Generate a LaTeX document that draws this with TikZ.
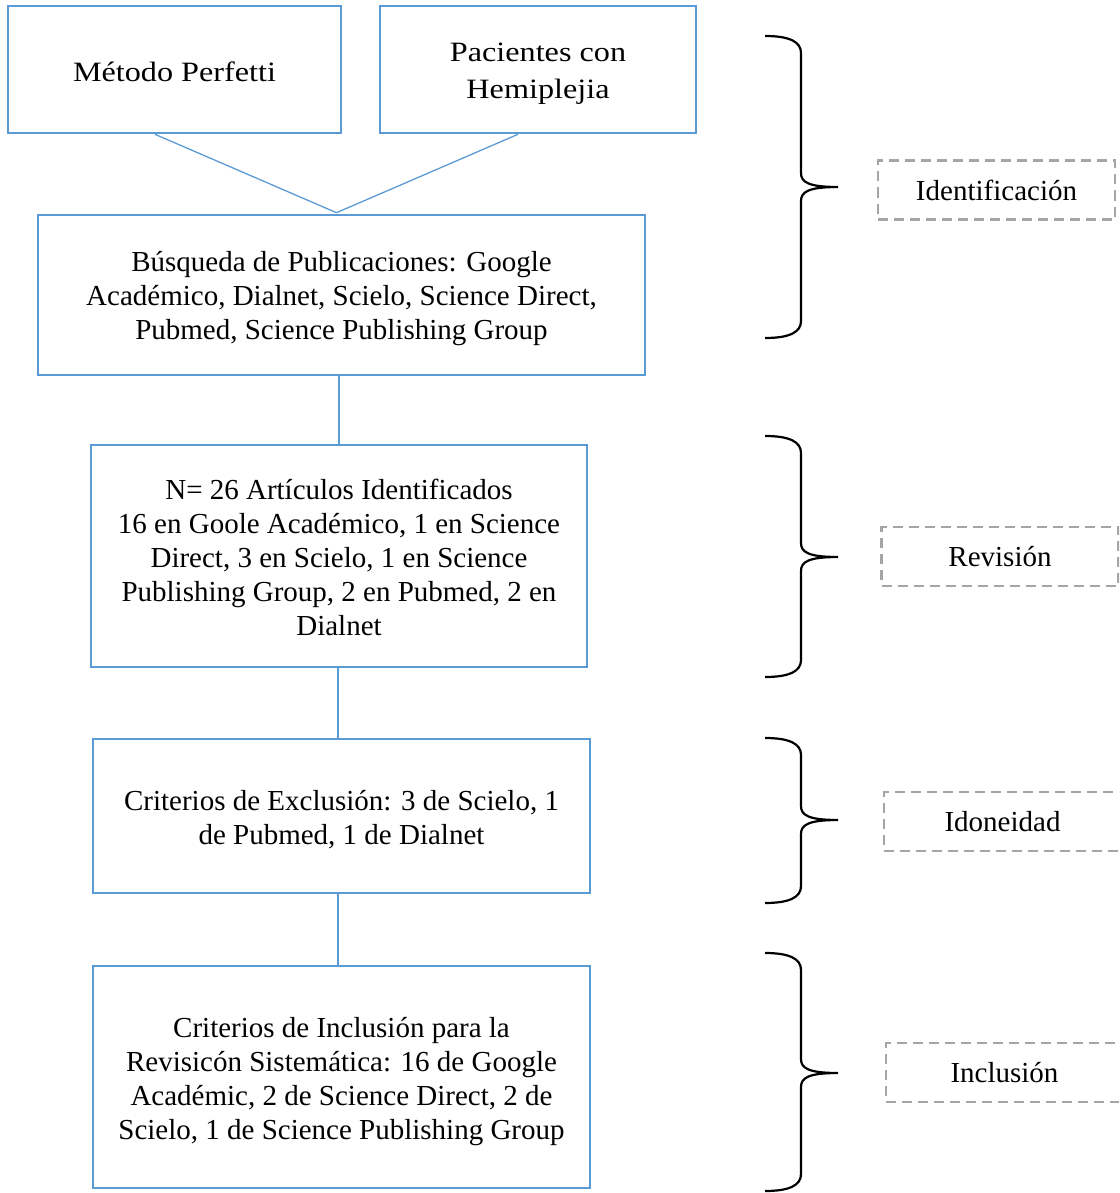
\documentclass[tikz,border=0pt]{standalone}
\usepackage{fontspec}
\setmainfont{Liberation Serif}
\newfontfamily\widefont[FakeStretch=1.15]{Liberation Serif}
\usetikzlibrary{calc}
\definecolor{boxblue}{HTML}{5B9BD5}
\definecolor{dashgray}{HTML}{A5A5A5}
\newcommand\mybrace[3]{%
  \draw[bracestyle] (765,#1) .. controls (790,#1) and (801,#1+6) .. (801,#1+17)
    -- (801,#2-14) .. controls (801,#2-5) and (808,#2) .. (838,#2)
    .. controls (808,#2) and (801,#2+5) .. (801,#2+14)
    -- (801,#3-17) .. controls (801,#3-6) and (790,#3) .. (765,#3);}
\begin{document}
\begin{tikzpicture}[x=1pt,y=-1pt,
  box/.style={draw=boxblue,line width=2.6pt,inner sep=0pt},
  txt/.style={align=center,inner sep=0pt,font=\fontsize{29}{34}\selectfont},
  toptxt/.style={align=center,inner sep=0pt,font=\widefont\fontsize{28}{37}\selectfont},
  stage/.style={draw=dashgray,line width=2.4pt,dash pattern=on 10pt off 6pt,
    minimum width=237pt,minimum height=59pt,inner sep=0pt,
    font=\fontsize{29}{34}\selectfont},
  link/.style={draw=boxblue,line width=1.3pt},
  bracestyle/.style={draw=black,line width=2.2pt}]
\useasboundingbox (0,0) rectangle (1119,1193);
\clip (0,0) rectangle (1119,1193);
% boxes
\node[box,minimum width=333pt,minimum height=127pt] (a) at (174.5,69.5) {};
\node[box,minimum width=316pt,minimum height=127pt] (b) at (538,69.5) {};
\node[box,minimum width=607pt,minimum height=160pt] (c) at (341.5,295) {};
\node[box,minimum width=496pt,minimum height=222pt] (d) at (339,556) {};
\node[box,minimum width=497pt,minimum height=154pt] (e) at (341.5,816) {};
\node[box,minimum width=497pt,minimum height=222pt] (f) at (341.5,1077) {};
% texts
\node[toptxt] (at) at (174.5,72) {Método Perfetti};
\node[toptxt] (bt) at (538,74) {Pacientes con\\Hemiplejia};
\node[txt] (ct) at (341.5,299) {Búsqueda de Publicaciones: Google\\Académico, Dialnet, Scielo, Science Direct,\\Pubmed, Science Publishing Group};
\node[txt] (dt) at (339,557) {N= 26 Artículos Identificados\\16 en Goole Académico, 1 en Science\\Direct, 3 en Scielo, 1 en Science\\Publishing Group, 2 en Pubmed, 2 en\\Dialnet};
\node[txt] (et) at (341.5,819.5) {Criterios de Exclusión: 3 de Scielo, 1\\de Pubmed, 1 de Dialnet};
\node[txt] (ft) at (341.5,1082) {Criterios de Inclusión para la\\Revisicón Sistemática: 16 de Google\\Académic, 2 de Science Direct, 2 de\\Scielo, 1 de Science Publishing Group};
% connectors
\coordinate (j) at ($(c.north)+(-5,-1)$);
\draw[link] ([xshift=-19.5pt]a.south) -- (j);
\draw[link] ([xshift=-20pt]b.south) -- (j);
\draw[link] (d.north) -- (d.north |- c.south);
\draw[link] ([xshift=-1pt]d.south) -- ([xshift=-1pt]d.south |- e.north);
\draw[link] ([xshift=-3.5pt]e.south) -- ([xshift=-3.5pt]f.north);
% braces
\mybrace{36}{187}{338}
\mybrace{436}{557}{677}
\mybrace{738}{820}{903}
\mybrace{953}{1073}{1191}
% stages
\node[stage] (s1) at (996.5,190) {Identificación};
\node[stage] (s2) at (1000,556.5) {Revisión};
\node[stage] (s3) at (1002.5,821.5) {Idoneidad};
\node[stage] (s4) at (1004.5,1072.5) {Inclusión};
\end{tikzpicture}
\end{document}
